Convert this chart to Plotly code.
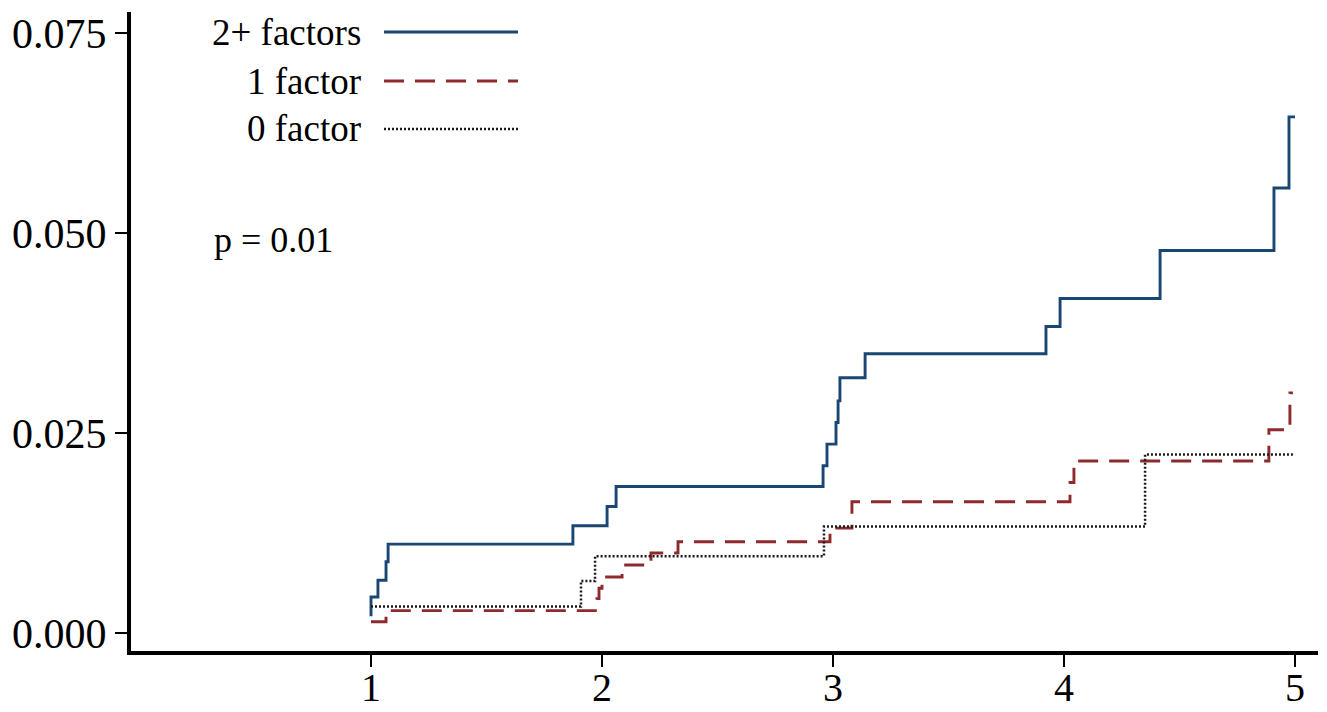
import plotly.graph_objects as go

# 2+ factors (blue, solid)
t_two = [1.0, 1.0, 1.030, 1.065, 1.074, 1.874, 2.022, 2.061, 2.957, 2.974, 3.013, 3.022, 3.030, 3.139, 3.922, 3.983, 4.416, 4.909, 4.974, 5.0]
y_two = [0.0021, 0.0045, 0.0066, 0.0089, 0.0111, 0.0134, 0.0158, 0.0183, 0.0209, 0.0236, 0.0263, 0.0290, 0.0319, 0.0349, 0.0383, 0.0418, 0.0478, 0.0556, 0.0645, 0.0645]

# 1 factor (red, dashed)
t_one = [1.0, 1.065, 1.978, 1.987, 2.000, 2.087, 2.212, 2.329, 2.987, 3.082, 4.026, 4.043, 4.887, 4.978, 4.991]
y_one = [0.0014, 0.0028, 0.0043, 0.0056, 0.0070, 0.0085, 0.0100, 0.0114, 0.0131, 0.0164, 0.0188, 0.0215, 0.0254, 0.0300, 0.0300]

# 0 factor (black, dotted)
t_zero = [1.0, 1.909, 1.970, 2.961, 4.351, 4.991]
y_zero = [0.0033, 0.0065, 0.0096, 0.0133, 0.0223, 0.0223]

x_ticks = [1, 2, 3, 4, 5]
y_ticks = [0.000, 0.025, 0.050, 0.075]
y_tick_text = ["0.000", "0.025", "0.050", "0.075"]

legend_labels = ["2+ factors", "1 factor", "0 factor"]
colors = ["#1a4674", "#8e2a2e", "#1a1a1a"]
dashes = ["solid", "20px,11px", "2px,2px"]
widths = [2.9, 2.9, 2.5]

FONT = "Liberation Serif, Times New Roman, serif"

# page body has an 8px margin; figure sized to fit
OFF = 8
W, H = 1319, 704
L, R, T, B = 123, 9, 4, 61
pw = W - L - R
ph = H - T - B


def px(sx, sy):
    fx, fy = sx - OFF, sy - OFF
    return (fx - L) / pw, (H - B - fy) / ph


fig = go.Figure()
series = [(t_two, y_two), (t_one, y_one), (t_zero, y_zero)]
for (t, y), name, c, d, w in zip(series, legend_labels, colors, dashes, widths):
    fig.add_trace(go.Scatter(x=t, y=y, mode="lines", name=name,
                             line=dict(color=c, dash=d, width=w, shape="hv"),
                             showlegend=False))

# manual legend: text right-aligned, line sample on the right
leg_y = [32, 81, 129]
for lab, c, d, w, yy in zip(legend_labels, colors, dashes, widths, leg_y):
    ax, ay = px(363, yy)
    fig.add_annotation(x=ax, y=ay, xref="paper", yref="paper",
                       text=lab, showarrow=False, xanchor="right", yanchor="middle",
                       font=dict(family=FONT, size=37, color="black"))
    x0, y0 = px(384, yy)
    x1, _ = px(518, yy)
    fig.add_shape(type="line", xref="paper", yref="paper",
                  x0=x0, x1=x1, y0=y0, y1=y0,
                  line=dict(color=c, dash=d, width=w))

pxp, pyp = px(212, 240)
fig.add_annotation(x=pxp, y=pyp, xref="paper", yref="paper",
                   text="p = 0.01", showarrow=False, xanchor="left", yanchor="middle",
                   font=dict(family=FONT, size=36, color="black"))

fig.update_layout(
    width=W, height=H,
    margin=dict(l=L, r=R, t=T, b=B, autoexpand=False),
    paper_bgcolor="white", plot_bgcolor="white",
    font=dict(family=FONT, color="black"),
)

fig.update_xaxes(range=[-0.039, 5.0996], tickvals=x_ticks, ticktext=[str(v) for v in x_ticks],
                 showgrid=False, zeroline=False, showline=True, linecolor="black", linewidth=4,
                 ticks="outside", ticklen=12, tickwidth=1.5, tickcolor="black",
                 ticklabelstandoff=-14,
                 tickfont=dict(family=FONT, size=40, color="black"))
fig.update_yaxes(range=[-0.00225, 0.0776], tickvals=y_ticks, ticktext=y_tick_text,
                 showgrid=False, zeroline=False, showline=True, linecolor="black", linewidth=4,
                 ticks="outside", ticklen=12, tickwidth=1.5, tickcolor="black",
                 tickfont=dict(family=FONT, size=42, color="black"))

fig.write_html("out.html")
